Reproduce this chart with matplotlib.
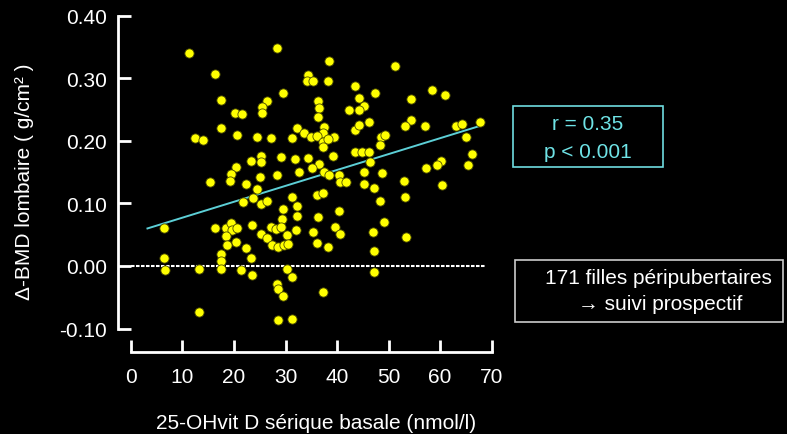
import matplotlib
matplotlib.use("Agg")
import matplotlib.pyplot as plt
from matplotlib.patches import Rectangle

# ---- data ----
vitd = [11.2, 16.3, 17.4, 20.2, 21.5, 17.4, 20.6, 12.5, 13.9, 24.5,
        28.3, 38.4, 34.3, 34.2, 35.4, 38.3, 43.5, 47.4, 29.6, 26.5,
        25.4, 25.4, 36.4, 36.5, 36.4, 44.3, 45.3, 44.3, 42.4, 46.3,
        43.5, 44.3, 32.3, 33.5, 37.5, 37.3, 39.4, 35.0, 36.1, 31.3,
        27.2, 48.5, 49.4, 51.3, 58.4, 61.0, 54.3, 54.3, 53.2, 57.1,
        63.1, 64.3, 67.7, 65.1, 23.3, 25.2, 25.2, 20.4, 19.4, 19.3,
        15.3, 22.4, 24.5, 25.1, 23.6, 21.7, 25.2, 6.5, 16.4, 18.5,
        19.5, 19.7, 20.6, 18.5, 23.4, 25.2, 20.3, 18.6, 37.3, 38.3,
        37.3, 48.3, 43.5, 44.9, 46.2, 29.2, 31.8, 34.3, 39.2, 36.5,
        35.2, 37.5, 38.4, 40.3, 40.6, 41.7, 46.4, 45.2, 48.7, 28.3,
        32.6, 45.3, 47.1, 36.1, 37.3, 31.2, 48.3, 26.5, 32.3, 29.5,
        40.3, 32.3, 36.3, 29.3, 49.1, 27.2, 28.1, 29.1, 39.6, 32.1,
        35.3, 40.6, 26.5, 30.3, 47.0, 36.2, 66.3, 65.4, 60.2, 59.4,
        57.3, 53.1, 60.3, 53.2, 53.3, 22.3, 23.3, 17.4, 17.4, 6.5,
        6.6, 13.2, 17.4, 21.3, 23.5, 13.2, 27.4, 28.6, 29.7, 30.5,
        38.2, 47.2, 30.2, 31.3, 47.2, 28.3, 28.5, 29.5, 37.3, 28.6,
        31.3]
dbmd = [0.341, 0.307, 0.266, 0.244, 0.243, 0.221, 0.210, 0.204, 0.201, 0.206,
        0.349, 0.327, 0.305, 0.295, 0.295, 0.295, 0.288, 0.277, 0.277, 0.263,
        0.255, 0.244, 0.263, 0.253, 0.238, 0.269, 0.256, 0.250, 0.249, 0.231,
        0.218, 0.226, 0.221, 0.212, 0.223, 0.212, 0.206, 0.207, 0.208, 0.205,
        0.204, 0.206, 0.209, 0.319, 0.281, 0.273, 0.267, 0.234, 0.224, 0.224,
        0.224, 0.227, 0.231, 0.207, 0.168, 0.176, 0.166, 0.158, 0.147, 0.136,
        0.134, 0.131, 0.123, 0.143, 0.109, 0.102, 0.099, 0.060, 0.060, 0.060,
        0.068, 0.058, 0.060, 0.048, 0.066, 0.051, 0.038, 0.034, 0.199, 0.203,
        0.190, 0.194, 0.183, 0.183, 0.183, 0.175, 0.171, 0.173, 0.176, 0.163,
        0.157, 0.151, 0.146, 0.146, 0.135, 0.135, 0.166, 0.151, 0.148, 0.145,
        0.151, 0.131, 0.124, 0.114, 0.117, 0.111, 0.104, 0.104, 0.096, 0.091,
        0.088, 0.080, 0.079, 0.075, 0.071, 0.063, 0.059, 0.063, 0.062, 0.058,
        0.055, 0.051, 0.044, 0.049, 0.055, 0.036, 0.179, 0.162, 0.168, 0.161,
        0.156, 0.136, 0.130, 0.110, 0.047, 0.029, 0.013, 0.019, 0.008, 0.012,
        -0.006, -0.005, -0.005, -0.006, -0.014, -0.074, 0.033, 0.030, 0.034, 0.035,
        0.031, 0.024, -0.005, -0.018, -0.009, -0.029, -0.037, -0.048, -0.042, -0.087,
        -0.085]

reg_x = [3.2, 67.7]          # extent of regression line
reg_slope = 0.00254
reg_intercept = 0.0519

x_ticks = [0, 10, 20, 30, 40, 50, 60, 70]
y_ticks = [-0.10, 0.00, 0.10, 0.20, 0.30, 0.40]
y_ticklabels = ["-0.10", "0.00", "0.10", "0.20", "0.30", "0.40"]

xlabel = "25-OHvit D sérique basale (nmol/l)"
ylabel = "Δ-BMD lombaire ( g/cm² )"
stat_lines = ["r = 0.35", "p < 0.001"]
info_lines = ["171 filles péripubertaires", "→ suivi prospectif"]

# ---- style ----
plt.rcParams['font.family'] = ['Liberation Sans', 'DejaVu Sans']
W, H = 787, 435
fig = plt.figure(figsize=(W / 100, H / 100), dpi=100, facecolor='black')
ax = fig.add_axes([118 / W, 1 - 353 / H, 378.7 / W, 348.7 / H])
ax.set_facecolor('black')
ax.set_xlim(-2.52, 71)
ax.set_ylim(-0.1375, 0.42)

for s in ['top', 'right']:
    ax.spines[s].set_visible(False)
for s in ['left', 'bottom']:
    ax.spines[s].set_color('white')
    ax.spines[s].set_linewidth(2)
ax.spines['left'].set_bounds(-0.10, 0.40)
ax.spines['bottom'].set_bounds(0, 70)

ax.set_xticks(x_ticks)
ax.set_xticklabels([str(t) for t in x_ticks])
ax.set_yticks(y_ticks)
ax.set_yticklabels(y_ticklabels)
ax.tick_params(axis='both', direction='in', length=9, width=2, color='white',
               labelcolor='white', labelsize=15)
ax.tick_params(axis='y', pad=8)
ax.tick_params(axis='x', pad=11)

# zero reference line
ax.plot([0, 69], [0, 0], color='white', lw=1.5, dashes=(1.7, 0.7), zorder=1)

# regression line
ry = [reg_intercept + reg_slope * v for v in reg_x]
ax.plot(reg_x, ry, color='#5ccfd6', lw=1.4, zorder=2)

# points
ax.scatter(vitd, dbmd, s=44, c='#ffff00', edgecolors='#4a4a00', linewidths=0.6,
           zorder=3, clip_on=False)

# axis labels
fig.text(316.5 / W, 1 - 424 / H, xlabel, color='white', fontsize=15,
         ha='center', va='center')
fig.text(25 / W, 1 - 182 / H, ylabel, color='white', fontsize=15,
         ha='center', va='center', rotation=90)

# stats box
fig.add_artist(Rectangle((513 / W, 1 - 168 / H), 150 / W, 61 / H,
                         transform=fig.transFigure, fill=False,
                         edgecolor='#6fdde0', lw=1.2))
fig.text(588 / W, 1 - 125 / H, stat_lines[0], color='#6fe3e6', fontsize=15,
         ha='center', va='center')
fig.text(588 / W, 1 - 152 / H, stat_lines[1], color='#6fe3e6', fontsize=15,
         ha='center', va='center')

# info box
fig.add_artist(Rectangle((515 / W, 1 - 323 / H), 268 / W, 62 / H,
                         transform=fig.transFigure, fill=False,
                         edgecolor='#cccccc', lw=1.2))
fig.text(658 / W, 1 - 279 / H, info_lines[0], color='white', fontsize=15,
         ha='center', va='center')
fig.text(660 / W, 1 - 305 / H, info_lines[1], color='white', fontsize=15,
         ha='center', va='center', family=['DejaVu Sans'] if False else None)

fig.savefig('out.png', dpi=100, facecolor='black')
